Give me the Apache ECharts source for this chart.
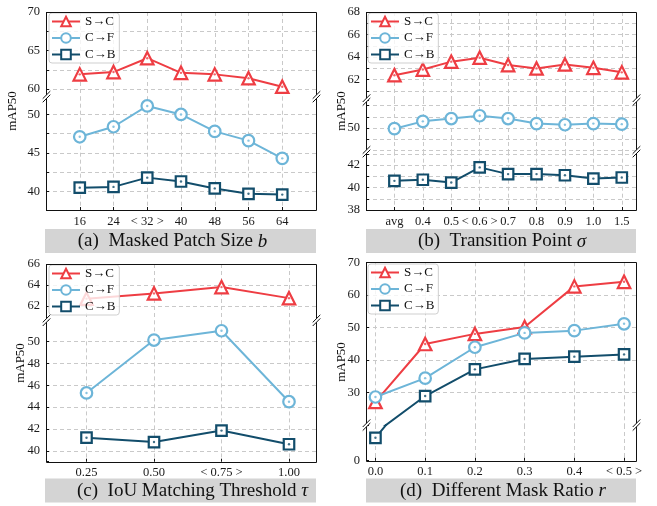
<!DOCTYPE html>
<html>
<head>
<meta charset="utf-8">
<script src="https://cdn.jsdelivr.net/npm/echarts@6/dist/echarts.min.js"></script>
<style>html,body{margin:0;padding:0;background:#fff;}#c{width:657px;height:506px;}</style>
</head>
<body>
<div id="c"></div>
<script>
// ---------------- data ----------------
const seriesNames = ['S→C', 'C→F', 'C→B'];

// (a) Masked Patch Size b
const aX = [16, 24, 32, 40, 48, 56, 64];
const aXLabels = ['16', '24', '< 32 >', '40', '48', '56', '64'];
const aSC = [61.9, 62.2, 64.0, 62.1, 61.9, 61.4, 60.3];
const aCF = [47.1, 48.4, 51.1, 50.0, 47.8, 46.6, 44.3];
const aCB = [40.5, 40.6, 41.8, 41.3, 40.4, 39.7, 39.6];

// (b) Transition Point sigma
const bX = [0, 1, 2, 3, 4, 5, 6, 7, 8];
const bXLabels = ['avg', '0.4', '0.5', '< 0.6 >', '0.7', '0.8', '0.9', '1.0', '1.5'];
const bSC = [62.4, 62.9, 63.6, 63.95, 63.3, 63.0, 63.35, 63.05, 62.65];
const bCF = [49.95, 50.6, 50.85, 51.1, 50.85, 50.4, 50.3, 50.4, 50.35];
const bCB = [40.6, 40.7, 40.45, 41.8, 41.2, 41.2, 41.1, 40.8, 40.9];

// (c) IoU Matching Threshold tau
const cX = [0.25, 0.5, 0.75, 1.0];
const cXLabels = ['0.25', '0.50', '< 0.75 >', '1.00'];
const cSC = [62.7, 63.2, 63.8, 62.75];
const cCF = [45.3, 50.15, 51.0, 44.5];
const cCB = [41.2, 40.8, 41.85, 40.6];

// (d) Different Mask Ratio r
const dX = [0.0, 0.1, 0.2, 0.3, 0.4, 0.5];
const dXLabels = ['0.0', '0.1', '0.2', '0.3', '0.4', '< 0.5 >'];
const dSC = [27.1, 44.9, 48.0, 50.1, 62.6, 64.0];
const dCF = [28.6, 34.4, 43.9, 48.3, 49.0, 51.1];
const dCB = [17.6, 28.9, 37.1, 40.3, 41.0, 41.7];
const dBottomTickLabel = '0';   // label printed at the foot of the lower (broken) segment

// ---------------- style / layout ----------------
const FONT = '"Liberation Serif", "Times New Roman", "DejaVu Serif", serif';
const COLORS = ['#ee3d43', '#6db5d8', '#124d6b'];
const SYMBOLS = ['triangle', 'circle', 'rect'];
const SYMSIZE = [12.5, 11.5, 10.5];
const TICKFS = 12.5;

const panels = [
  { left: 46, width: 270, x: aX, xl: aXLabels, xMin: 8, xMax: 72, xStep: 8, data: [aSC, aCF, aCB],
    segs: [{ t: 12, b: 96.7, min: 59, max: 70, minor: 2.5, major: 5 },
           { t: 96.7, b: 210, min: 37.6, max: 52.3, minor: 2.5, major: 5 }],
    legend: [49, 13], yName: [13, 111],
    cap: { x: 45, y: 229, w: 271, h: 24, cx: 172.5, main: '(a)  Masked Patch Size ', it: 'b' } },
  { left: 366, width: 270, x: bX, xl: bXLabels, xMin: -1, xMax: 8.5, xStep: 1, data: [bSC, bCF, bCB],
    segs: [{ t: 12, b: 100, min: 60.2, max: 68, minor: 1, major: 2 },
           { t: 100, b: 151.7, min: 47.9, max: 52.5, minor: 1, major: 5 },
           { t: 151.7, b: 210, min: 38, max: 43.2, minor: 1, major: 2 }],
    legend: [368, 13], yName: [342, 111],
    cap: { x: 366, y: 229, w: 270, h: 24, cx: 502, main: '(b)  Transition Point ', it: 'σ' } },
  { left: 46, width: 270, x: cX, xl: cXLabels, xMin: 0.1, xMax: 1.1, xStep: 0.25, data: [cSC, cCF, cCB],
    segs: [{ t: 264, b: 320.4, min: 60.63, max: 66, minor: 2, major: 2 },
           { t: 320.4, b: 461.7, min: 39, max: 51.95, minor: 2, major: 2 }],
    legend: [49, 265], yName: [21, 363],
    cap: { x: 45, y: 478.5, w: 271, h: 24, cx: 192.5, main: '(c)  IoU Matching Threshold ', it: 'τ' } },
  { left: 366, width: 270, x: dX, xl: dXLabels, xMin: -0.019, xMax: 0.524, xStep: 0.1, data: [dSC, dCF, dCB],
    segs: [{ t: 262.3, b: 425, min: 20, max: 70, minor: 10, major: 10 },
           { t: 425, b: 460.7, min: 13.3, max: 20, minor: 10, major: 10, minLabel: dBottomTickLabel }],
    legend: [368, 264], yName: [342, 362],
    cap: { x: 366, y: 478.5, w: 270, h: 24, cx: 503, main: '(d)  Different Mask Ratio ', it: 'r' } }
];

function isMult(v, step) {
  const r = v / step;
  return Math.abs(r - Math.round(r)) < 1e-6;
}
function fmtNum(v) { return String(+(+v).toFixed(3)); }

const grids = [], xAxes = [], yAxes = [], lineSeries = [], dotSeries = [], graphics = [], legends = [];
const gridLine = { show: true, lineStyle: { color: '#c9c9c9', type: [4, 3], width: 1 }, showMinLine: false, showMaxLine: false };

panels.forEach((p) => {
  p.segs.forEach((s, si) => {
    const gi = grids.length;
    const isTop = si === 0;
    const isBottom = si === p.segs.length - 1;
    grids.push({ left: p.left, top: s.t, width: p.width, height: s.b - s.t, containLabel: false, outerBoundsMode: 'none' });
    xAxes.push({
      type: 'value', gridIndex: gi, min: p.xMin, max: p.xMax, position: 'bottom',
      minInterval: p.xStep, maxInterval: p.xStep,
      axisLine: { show: false, onZero: false },
      axisTick: { show: isBottom, inside: true, length: 3, lineStyle: { color: '#111' } },
      axisLabel: {
        show: isBottom, margin: 5, fontFamily: FONT, fontSize: TICKFS, color: '#1a1a1a',
        formatter: (v) => { const i = p.x.findIndex(xx => Math.abs(xx - v) < 1e-6); return i >= 0 ? p.xl[i] : ''; }
      },
      splitLine: gridLine
    });
    yAxes.push({
      type: 'value', gridIndex: gi, min: s.min, max: s.max, position: 'left',
      minInterval: s.minor, maxInterval: s.minor,
      axisLine: { show: false, onZero: false },
      axisTick: { show: true, inside: true, length: 3, lineStyle: { color: '#111' } },
      axisLabel: {
        margin: 6, fontFamily: FONT, fontSize: TICKFS, color: '#1a1a1a',
        formatter: (v) => {
          if (s.minLabel != null && Math.abs(v - s.min) < 1e-6) return s.minLabel;
          if (!isTop && Math.abs(v - s.max) < 1e-6) return '';
          if (!isBottom && Math.abs(v - s.min) < 1e-6) return '';
          return isMult(v, s.major) ? fmtNum(v) : '';
        }
      },
      splitLine: gridLine
    });
    p.data.forEach((vals, k) => {
      const pts = p.x.map((xv, i) => [xv, vals[i]]);
      lineSeries.push({
        type: 'line', name: seriesNames[k], xAxisIndex: gi, yAxisIndex: gi, data: pts, clip: true,
        symbol: SYMBOLS[k], symbolSize: SYMSIZE[k], showSymbol: true, z: 2 + k * 2,
        lineStyle: { color: COLORS[k], width: 2 },
        itemStyle: { color: '#fff', borderColor: COLORS[k], borderWidth: 2.2 },
        emphasis: { disabled: true }, silent: true
      });
      dotSeries.push({
        type: 'scatter', name: seriesNames[k] + '_dot', xAxisIndex: gi, yAxisIndex: gi, data: pts, clip: true,
        symbol: 'circle', symbolSize: 2.4, z: 3 + k * 2, itemStyle: { color: COLORS[k] },
        emphasis: { disabled: true }, silent: true
      });
    });
  });

  const top = p.segs[0].t, bot = p.segs[p.segs.length - 1].b;
  graphics.push({ type: 'rect', z: 100, silent: true,
    shape: { x: p.left + 0.5, y: Math.round(top) + 0.5, width: p.width, height: Math.round(bot) - Math.round(top) },
    style: { fill: 'none', stroke: '#111', lineWidth: 1 } });
  for (let i = 1; i < p.segs.length; i++) {
    const y = p.segs[i].t;
    [p.left + 0.5, p.left + p.width + 0.5].forEach((x) => {
      const d = 1.8, h = 3.8;
      graphics.push({ type: 'polygon', z: 101, silent: true,
        shape: { points: [[x - h, y + h - d], [x + h, y - h - d], [x + h, y - h + d], [x - h, y + h + d]] },
        style: { fill: '#fff', stroke: null } });
      graphics.push({ type: 'line', z: 102, silent: true,
        shape: { x1: x - h, y1: y + h - d, x2: x + h, y2: y - h - d }, style: { stroke: '#111', lineWidth: 1 } });
      graphics.push({ type: 'line', z: 102, silent: true,
        shape: { x1: x - h, y1: y + h + d, x2: x + h, y2: y - h + d }, style: { stroke: '#111', lineWidth: 1 } });
    });
  }
  graphics.push({ type: 'text', z: 100, silent: true, x: p.yName[0], y: p.yName[1], rotation: Math.PI / 2,
    style: { text: 'mAP50', fontFamily: FONT, fontSize: 13, fill: '#111', align: 'center', verticalAlign: 'middle' } });
  graphics.push({ type: 'rect', z: 50, silent: true, shape: { x: p.cap.x, y: p.cap.y, width: p.cap.w, height: p.cap.h },
    style: { fill: '#d4d4d4', stroke: null } });
  graphics.push({ type: 'text', z: 51, silent: true, x: p.cap.cx, y: p.cap.y + p.cap.h / 2 + 0.5,
    style: { text: '{n|' + p.cap.main + '}{i|' + p.cap.it + '}', align: 'center', verticalAlign: 'middle',
      rich: { n: { fontFamily: FONT, fontSize: 19, fill: '#111' }, i: { fontFamily: FONT, fontSize: 19, fontStyle: 'italic', fill: '#111' } } } });
  legends.push({
    data: seriesNames, left: p.legend[0], top: p.legend[1], orient: 'vertical',
    itemWidth: 28, itemHeight: 12, itemGap: 3.5, padding: [2, 4, 2, 2],
    backgroundColor: 'rgba(255,255,255,0.8)', borderColor: '#cfcfcf', borderWidth: 1, borderRadius: 3,
    textStyle: { fontFamily: FONT, fontSize: 13, color: '#111' }, selectedMode: false, z: 20
  });
});

const chart = echarts.init(document.getElementById('c'), null, { renderer: 'canvas' });
chart.setOption({
  animation: false,
  backgroundColor: '#fff',
  grid: grids, xAxis: xAxes, yAxis: yAxes,
  legend: legends,
  series: lineSeries.concat(dotSeries),
  graphic: { elements: graphics }
});
</script>
</body>
</html>
